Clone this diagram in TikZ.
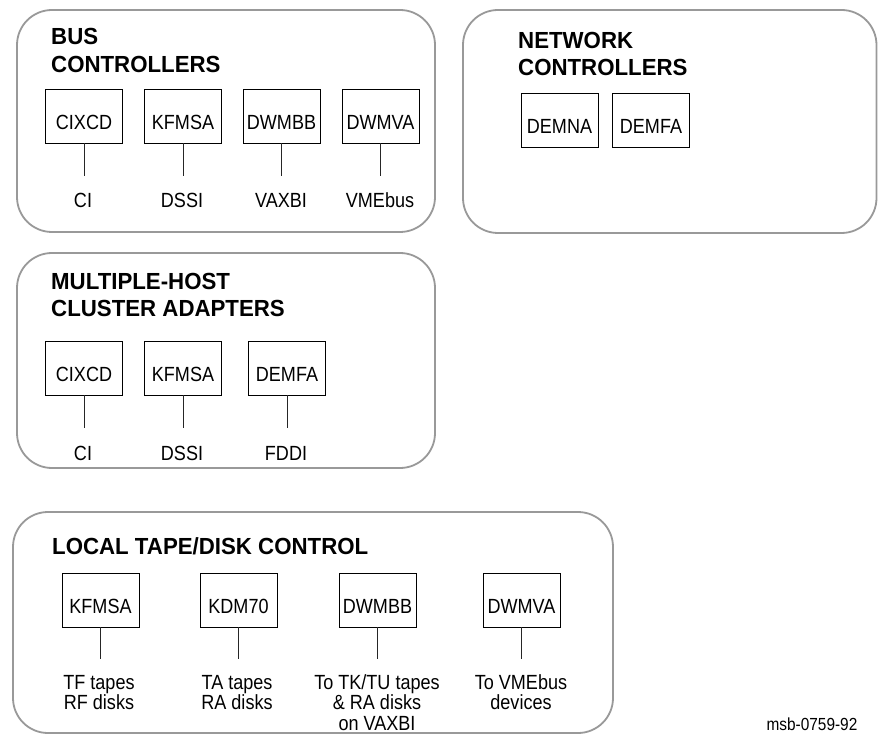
\documentclass[tikz,border=0pt]{standalone}
\usepackage{fontspec}
\setmainfont{Liberation Sans}
\newfontfamily\regfont[FakeStretch=0.88]{Liberation Sans}
\newfontfamily\ttlfont[FakeStretch=0.955]{Liberation Sans}
\definecolor{grp}{rgb}{0.6,0.6,0.6}
\newcommand{\tp}{\vphantom{b/}}
\begin{document}
\begin{tikzpicture}[x=1pt,y=-1pt,
  group/.style={draw=grp, line width=1.8pt, rounded corners=35pt},
  dev/.style={draw=black, line width=0.9pt, minimum width=77pt, minimum height=54pt, inner sep=0pt, text height=27.5pt, text depth=0pt, font=\regfont\fontsize{20.5}{22}\selectfont},
  ttl/.style={anchor=north west, inner sep=0pt, align=left, font=\ttlfont\bfseries\fontsize{23.3}{27.5}\selectfont},
  lbl/.style={anchor=north, inner sep=0pt, align=center, font=\regfont\fontsize{20.5}{20.5}\selectfont},
  bus/.style={anchor=base, inner sep=0pt, text height=14.7pt, font=\regfont\fontsize{20.5}{20.5}\selectfont},
  link/.style={draw=black!85, line width=0.9pt, shorten >=17.5pt}]
\useasboundingbox (0,0) rectangle (878,735);
\fill[white] (0,0) rectangle (878,735);

% group frames
\draw[group] (17,10) rectangle (435,232);
\draw[group] (463,10) rectangle (876.5,233);
\draw[group] (17,253) rectangle (435,468);
\draw[group] (13,512) rectangle (613,733);

% BUS CONTROLLERS
\node[ttl] (tbus) at (51,28.3) {BUS\\CONTROLLERS};
\node[dev] (b1) at (84,116) {CIXCD};
\node[dev] (b2) at (183,116) {KFMSA};
\node[dev] (b3) at (281.5,116) {DWMBB};
\node[dev] (b4) at (380.5,116) {DWMVA};
\node[bus] (bl1) at (83,208) {CI};
\node[bus] (bl2) at (182,208) {DSSI};
\node[bus] (bl3) at (281,208) {VAXBI};
\node[bus] (bl4) at (380,208) {VMEbus};
\foreach \i in {1,...,4} {\draw[link] (b\i.south) -- (b\i.south |- bl\i.north);}

% NETWORK CONTROLLERS
\node[ttl] (tnet) at (518,32) {NETWORK\\CONTROLLERS};
\node[dev] (n1) at (559.5,120) {DEMNA};
\node[dev] (n2) at (651,120) {DEMFA};

% MULTIPLE-HOST CLUSTER ADAPTERS
\node[ttl] (tmh) at (51,273) {MULTIPLE-HOST\\CLUSTER ADAPTERS};
\node[dev] (m1) at (84,368) {CIXCD};
\node[dev] (m2) at (183,368) {KFMSA};
\node[dev] (m3) at (287,368) {DEMFA};
\node[bus] (ml1) at (83,460) {CI};
\node[bus] (ml2) at (182,460) {DSSI};
\node[bus] (ml3) at (286,460) {FDDI};
\foreach \i in {1,...,3} {\draw[link] (m\i.south) -- (m\i.south |- ml\i.north);}

% LOCAL TAPE/DISK CONTROL
\node[ttl] (tloc) at (52,537) {LOCAL TAPE/DISK CONTROL};
\node[dev] (d1) at (100.5,600) {KFMSA};
\node[dev] (d2) at (238.5,600) {KDM70};
\node[dev] (d3) at (377.5,600) {DWMBB};
\node[dev] (d4) at (521.5,600) {DWMVA};
\node[lbl] (dl1) at (99,674) {\tp TF tapes\\RF disks};
\node[lbl] (dl2) at (237,674) {\tp TA tapes\\RA disks};
\node[lbl] (dl3) at (377,674) {\tp To TK/TU tapes\\\&~RA disks\\on VAXBI};
\node[lbl] (dl4) at (521,674) {\tp To VMEbus\\devices};
\foreach \i in {1,...,4} {\draw[link, shorten >=15pt] (d\i.south) -- (d\i.south |- dl\i.north);}

\node[inner sep=0pt, font=\regfont\fontsize{17.5}{18}\selectfont] (msb) at (812,724) {msb-0759-92};
\end{tikzpicture}
\end{document}
